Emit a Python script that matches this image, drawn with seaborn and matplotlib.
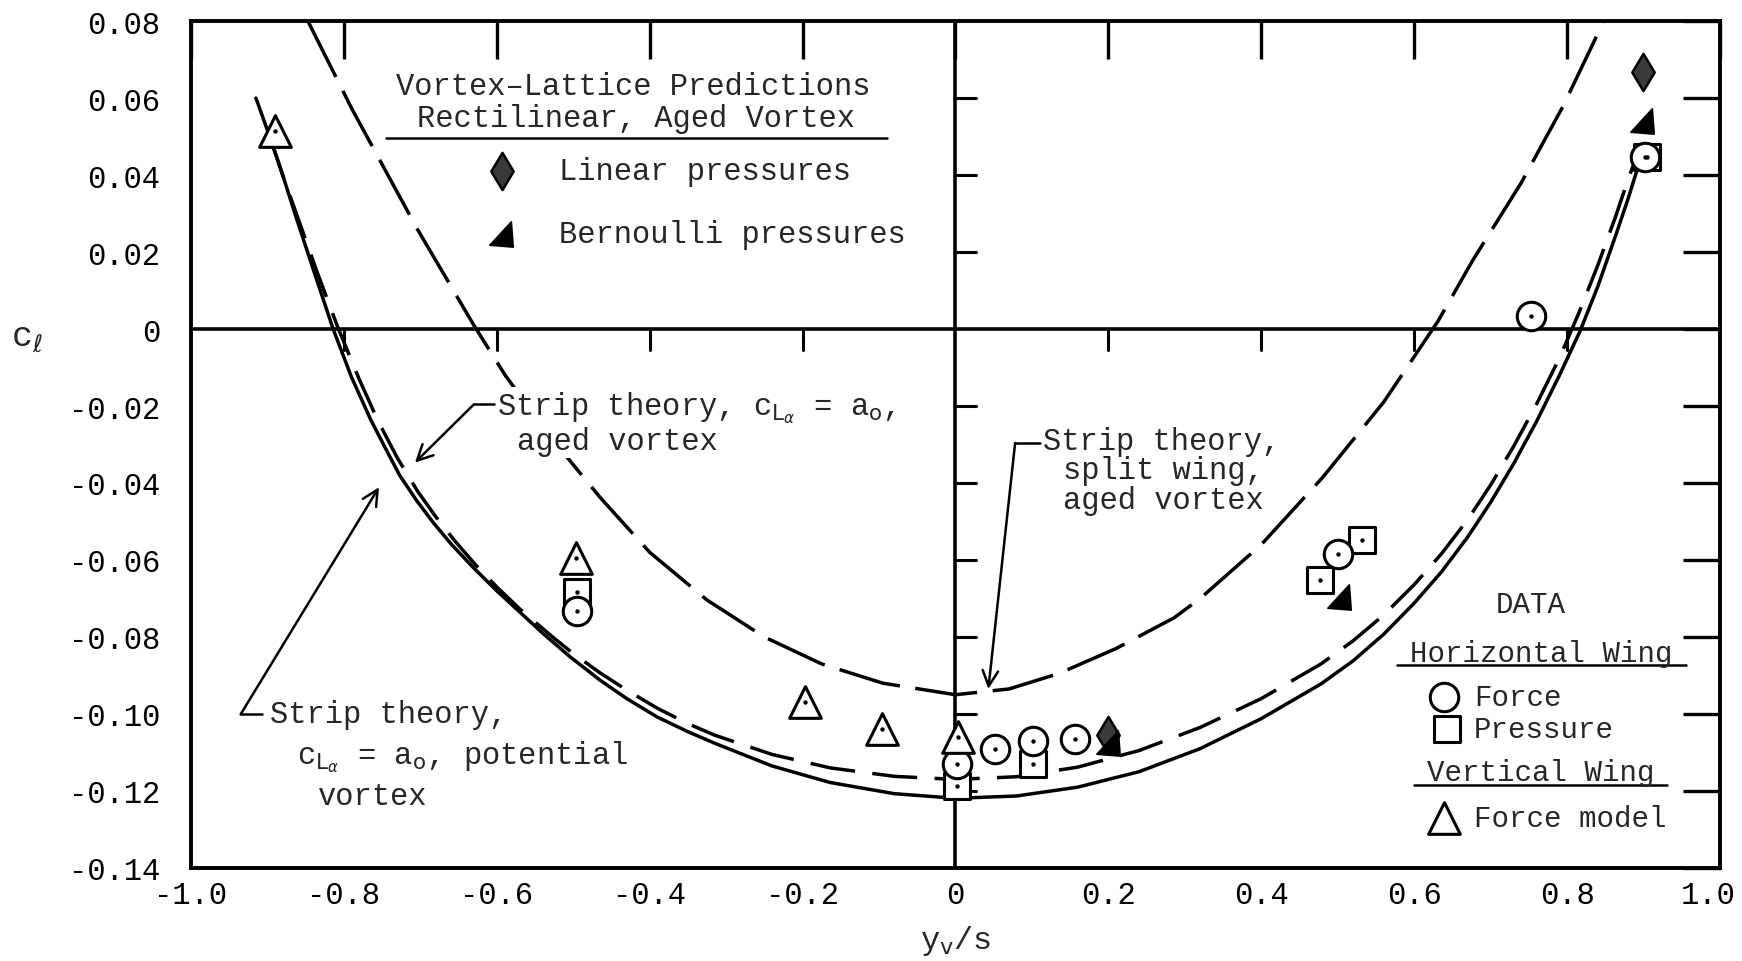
import matplotlib
matplotlib.use("Agg")
import matplotlib.pyplot as plt
import matplotlib.transforms as mtransforms
import seaborn as sns
import numpy as np
import pandas as pd
from matplotlib.path import Path

# ---------------- data ----------------
# Strip theory, cLa = ao, potential vortex (solid)
pot_x = [-0.915, -0.897, -0.880, -0.864, -0.840, -0.814, -0.790, -0.765, -0.745, -0.727,
         -0.705, -0.683, -0.659, -0.630, -0.600, -0.570, -0.540, -0.505, -0.465, -0.430,
         -0.390, -0.350, -0.315, -0.240, -0.164, -0.080, 0.000, 0.080, 0.160, 0.240,
         0.320, 0.400, 0.478, 0.520, 0.560, 0.600, 0.636, 0.670, 0.700, 0.730,
         0.760, 0.790, 0.817, 0.840, 0.863, 0.880, 0.898]
pot_y = [0.0600, 0.0500, 0.0400, 0.0300, 0.0155, 0.0000, -0.0125, -0.0235, -0.0312, -0.0380,
         -0.0445, -0.0503, -0.0560, -0.0621, -0.0680, -0.0735, -0.0790, -0.0850, -0.0912, -0.0960,
         -0.1008, -0.1046, -0.1076, -0.1135, -0.1178, -0.1207, -0.1219, -0.1213, -0.1190, -0.1150,
         -0.1090, -0.1012, -0.0922, -0.0862, -0.0793, -0.0712, -0.0630, -0.0540, -0.0450, -0.0350,
         -0.0240, -0.0120, -0.0005, 0.0110, 0.0240, 0.0340, 0.0455]

# Strip theory, cLa = ao, aged vortex (short dashes)
aged_x = [-0.897, -0.880, -0.860, -0.835, -0.808, -0.780, -0.755, -0.730, -0.704, -0.680,
          -0.655, -0.628, -0.600, -0.570, -0.527, -0.500, -0.465, -0.430, -0.390, -0.350,
          -0.315, -0.240, -0.164, -0.080, 0.000, 0.080, 0.160, 0.240, 0.320, 0.400,
          0.478, 0.520, 0.560, 0.600, 0.636, 0.670, 0.700, 0.730, 0.760, 0.790,
          0.815, 0.840, 0.863, 0.880, 0.893]
aged_y = [0.0500, 0.0400, 0.0288, 0.0148, 0.0005, -0.0130, -0.0240, -0.0335, -0.0420, -0.0487,
          -0.0550, -0.0612, -0.0670, -0.0727, -0.0800, -0.0843, -0.0893, -0.0938, -0.0985, -0.1025,
          -0.1055, -0.1105, -0.1140, -0.1162, -0.1170, -0.1163, -0.1138, -0.1095, -0.1035, -0.0960,
          -0.0870, -0.0810, -0.0743, -0.0664, -0.0583, -0.0495, -0.0405, -0.0305, -0.0195, -0.0075,
          0.0040, 0.0165, 0.0290, 0.0390, 0.0460]

# Strip theory, split wing, aged vortex (long dashes)
split_x = [-0.847, -0.789, -0.704, -0.630, -0.589, -0.530, -0.465, -0.400, -0.325, -0.250,
           -0.175, -0.095, 0.0, 0.070, 0.135, 0.210, 0.286, 0.320, 0.400, 0.480,
           0.560, 0.631, 0.677, 0.740, 0.795, 0.848]
split_y = [0.080, 0.057, 0.026, 0.001, -0.012, -0.028, -0.0437, -0.058, -0.0704, -0.0800,
           -0.0870, -0.0920, -0.0950, -0.0935, -0.0895, -0.0830, -0.0750, -0.0700, -0.0560, -0.0386,
           -0.0190, 0.0020, 0.0180, 0.0380, 0.0580, 0.0800]

# Horizontal wing, force (circles)
hforce_x = [-0.495, 0.002, 0.052, 0.101, 0.156, 0.500, 0.753, 0.902]
hforce_y = [-0.0732, -0.1130, -0.1090, -0.1070, -0.1066, -0.0585, 0.0034, 0.0448]
# Horizontal wing, pressure (squares)
hpress_x = [-0.495, 0.002, 0.101, 0.477, 0.532, 0.904]
hpress_y = [-0.0683, -0.1188, -0.1130, -0.0652, -0.0549, 0.0448]
# Vertical wing, force model (triangles)
vforce_x = [-0.890, -0.496, -0.197, -0.096, 0.003]
vforce_y = [0.0514, -0.0595, -0.0968, -0.1040, -0.1060]
# Vortex-lattice predictions
lin_x = [0.199, 0.899]
lin_y = [-0.1055, 0.0667]
bern_x = [0.201, 0.503, 0.899]
bern_y = [-0.1075, -0.0696, 0.0540]

x_ticks = [-1.0, -0.8, -0.6, -0.4, -0.2, 0.0, 0.2, 0.4, 0.6, 0.8, 1.0]
x_tick_labels = ["-1.0", "-0.8", "-0.6", "-0.4", "-0.2", "0", "0.2", "0.4", "0.6", "0.8", "1.0"]
y_ticks = [-0.14, -0.12, -0.10, -0.08, -0.06, -0.04, -0.02, 0.0, 0.02, 0.04, 0.06, 0.08]
y_tick_labels = ["-0.14", "-0.12", "-0.10", "-0.08", "-0.06", "-0.04", "-0.02", "0",
                 "0.02", "0.04", "0.06", "0.08"]

# ---------------- style ----------------
sns.set_style("white")
FONT = ["Liberation Mono", "DejaVu Sans Mono", "DejaVu Sans"]
plt.rcParams["font.family"] = FONT
plt.rcParams["mathtext.fontset"] = "dejavusans"
FS = 22
LW = 2.5

fig = plt.figure(figsize=(17.42, 9.62), dpi=100)
ax = fig.add_axes([0.1096, 0.0967, 0.8778, 0.8804])

curves = pd.DataFrame({"x": pot_x, "y": pot_y})
sns.lineplot(data=curves, x="x", y="y", ax=ax, color="black", lw=LW,
             estimator=None, sort=False, zorder=3)
sns.lineplot(x=aged_x, y=aged_y, ax=ax, color="black", lw=LW, estimator=None,
             sort=False, linestyle=(0, (13, 5)), zorder=3)
sns.lineplot(x=split_x, y=split_y, ax=ax, color="black", lw=LW, estimator=None,
             sort=False, linestyle=(0, (18, 4.5)), zorder=3)

ax.axhline(0, color="black", lw=2.6, zorder=2)
ax.axvline(0, color="black", lw=2.6, zorder=2)

bern_marker = Path([(-1, -0.85), (0.85, -1), (0.7, 1), (-1, -0.85)],
                   [Path.MOVETO, Path.LINETO, Path.LINETO, Path.CLOSEPOLY])

def markers(xs, ys, marker, s, face="white", lw=2.2, dot=True, z=5):
    sns.scatterplot(x=xs, y=ys, ax=ax, marker=marker, s=s, facecolor=face,
                    edgecolor="black", linewidth=lw, zorder=z, legend=False)
    if dot:
        sns.scatterplot(x=xs, y=ys, ax=ax, marker="o", s=10, color="black",
                        linewidth=0, zorder=z + 0.5, legend=False)

markers(hpress_x, hpress_y, "s", 330)
markers(hforce_x, hforce_y, "o", 420)
markers(vforce_x, vforce_y, "^", 520)
markers(lin_x, lin_y, "d", 360, face="#3a3a3a", lw=1.8, dot=False, z=6)
markers(bern_x, bern_y, bern_marker, 330, face="black", lw=1.2, dot=False, z=6)

# ---------------- axes ----------------
ax.set_xlim(-1.0, 1.0)
ax.set_ylim(-0.14, 0.08)
ax.set_xticks(x_ticks)
ax.set_xticklabels(x_tick_labels)
ax.set_yticks(y_ticks)
ax.set_yticklabels(y_tick_labels)
ax.tick_params(axis="both", direction="in", length=27, width=2.4, top=True,
               right=True, labelsize=FS, colors="black")
ax.tick_params(axis="y", pad=22)
ax.tick_params(axis="x", pad=9)
for sp in ax.spines.values():
    sp.set_linewidth(2.8)
    sp.set_color("black")

# keep the last x tick label inside the picture
last_lab = ax.xaxis.get_major_ticks()[-1].label1
last_lab.set_transform(last_lab.get_transform()
                       + mtransforms.ScaledTranslation(-0.12, 0, fig.dpi_scale_trans))

# small ticks along the zero lines
for xt in x_ticks[1:-1]:
    if xt != 0:
        ax.plot([xt, xt], [0, -0.0055], color="black", lw=2.2, zorder=2)
for yt in y_ticks[1:-1]:
    if yt != 0:
        ax.plot([0, 0.027], [yt, yt], color="black", lw=2.2, zorder=2)

ax.set_xlabel(r"y$_\mathrm{v}$/s", fontsize=FS + 1)
ax.xaxis.set_label_coords(0.5, -0.085)
ax.xaxis.label.set_va("center")
ax.set_ylabel(r"c$_\ell$", fontsize=FS + 3, rotation=0)
ax.yaxis.set_label_coords(-0.107, 0.628)
ax.yaxis.label.set_va("center")

# ---------------- prediction key (upper left) ----------------
ax.text(-0.422, 0.0631, "Vortex\u2013Lattice Predictions", ha="center", va="center", fontsize=FS)
ax.text(-0.418, 0.0549, "Rectilinear, Aged Vortex", ha="center", va="center", fontsize=FS)
ax.plot([-0.745, -0.090], [0.0497, 0.0497], color="black", lw=1.8)
markers([-0.593], [0.0411], "d", 360, face="#3a3a3a", lw=1.8, dot=False, z=6)
ax.text(-0.519, 0.0411, "Linear pressures", ha="left", va="center", fontsize=FS)
markers([-0.593], [0.0246], bern_marker, 330, face="black", lw=1.2, dot=False, z=6)
ax.text(-0.519, 0.0246, "Bernoulli pressures", ha="left", va="center", fontsize=FS)

# ---------------- data key (lower right) ----------------
ax.text(0.753, -0.0714, "DATA", ha="center", va="center", fontsize=FS - 1)
ax.text(0.766, -0.0841, "Horizontal Wing", ha="center", va="center", fontsize=FS - 1)
ax.plot([0.577, 0.955], [-0.0872, -0.0872], color="black", lw=1.8)
markers([0.639], [-0.0955], "o", 420, dot=False)
ax.text(0.678, -0.0955, "Force", ha="left", va="center", fontsize=FS - 1)
markers([0.643], [-0.1040], "s", 330, dot=False)
ax.text(0.678, -0.1040, "Pressure", ha="left", va="center", fontsize=FS - 1)
ax.text(0.766, -0.1150, "Vertical Wing", ha="center", va="center", fontsize=FS - 1)
ax.plot([0.600, 0.931], [-0.1185, -0.1185], color="black", lw=1.8)
markers([0.639], [-0.1270], "^", 520, dot=False)
ax.text(0.678, -0.1270, "Force model", ha="left", va="center", fontsize=FS - 1)

# ---------------- curve labels with leaders ----------------
box = dict(facecolor="white", edgecolor="none", pad=1.5)
ax.text(-0.600, -0.0202,
        r"Strip theory, c$_{\mathrm{L}_\alpha}$ = a$_\mathrm{o}$,",
        ha="left", va="center", fontsize=FS, bbox=box, zorder=7)
ax.text(-0.574, -0.0290, "aged vortex", ha="left", va="center", fontsize=FS, bbox=box, zorder=7)

ax.text(-0.897, -0.1001, "Strip theory,", ha="left", va="center", fontsize=FS, zorder=7)
ax.text(-0.861, -0.1110,
        r"c$_{\mathrm{L}_\alpha}$ = a$_\mathrm{o}$, potential",
        ha="left", va="center", fontsize=FS, zorder=7)
ax.text(-0.834, -0.1213, "vortex", ha="left", va="center", fontsize=FS, zorder=7)

ax.text(0.115, -0.0290, "Strip theory,", ha="left", va="center", fontsize=FS, zorder=7)
ax.text(0.141, -0.0367, "split wing,", ha="left", va="center", fontsize=FS, zorder=7)
ax.text(0.141, -0.0445, "aged vortex", ha="left", va="center", fontsize=FS, zorder=7)

leaders = [
    ((-0.604, -0.0196), (-0.630, -0.0196), (-0.707, -0.0347)),
    ((-0.907, -0.1001), (-0.935, -0.1001), (-0.754, -0.0411)),
    ((0.111, -0.0296), (0.078, -0.0296), (0.043, -0.0935)),
]
for start, bend, tip in leaders:
    ax.plot([start[0], bend[0]], [start[1], bend[1]], color="black", lw=1.8, zorder=7)
    ax.annotate("", xy=tip, xytext=bend,
                arrowprops=dict(arrowstyle="->", lw=1.8, color="black",
                                shrinkA=0, shrinkB=0, mutation_scale=28),
                zorder=7)

fig.savefig("out.png", dpi=100, facecolor="white")
